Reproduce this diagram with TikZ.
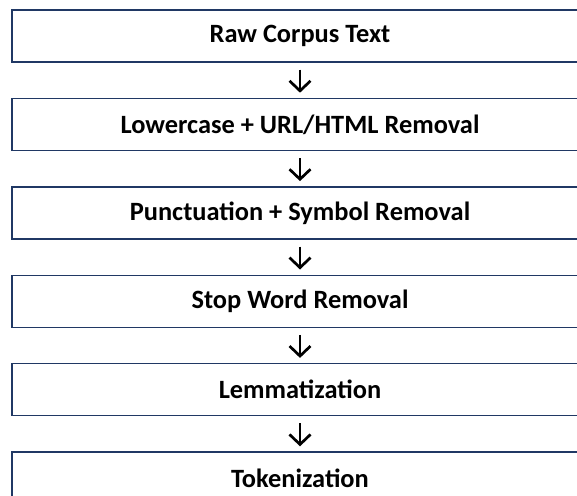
\documentclass[tikz,border=0pt]{standalone}
\usepackage{fontspec}
\setmainfont{Carlito}
\usetikzlibrary{positioning,arrows.meta}
\definecolor{boxblue}{HTML}{203864}
\tikzset{
  stage/.style={draw=boxblue,line width=1.4pt,minimum width=576pt,minimum height=52pt,
    inner sep=0pt,font=\fontsize{26.4}{30}\selectfont\bfseries},
  flow/.style={line width=2.7pt,-{Straight Barb[length=10pt,width=21pt]},
    shorten <=7pt,shorten >=5pt}
}
\begin{document}
\begin{tikzpicture}
    \useasboundingbox (0,0) rectangle (577pt,-495pt);
    \clip (0,0) rectangle (577pt,-495pt);
    \node[stage] (raw) at (300pt,-36pt) {Raw Corpus Text};
    \node[stage,below=35pt of raw] (lower) {Lowercase + URL/HTML Removal};
    \node[stage,below=35pt of lower] (punct) {Punctuation + Symbol Removal};
    \node[stage,below=35pt of punct] (stopw) {Stop Word Removal};
    \node[stage,below=35pt of stopw] (lemma) {Lemmatization};
    \node[stage,below=35pt of lemma] (token) {Tokenization};
    \draw[flow] (raw) -- (lower);
    \draw[flow] (lower) -- (punct);
    \draw[flow] (punct) -- (stopw);
    \draw[flow] (stopw) -- (lemma);
    \draw[flow] (lemma) -- (token);
\end{tikzpicture}
\end{document}
